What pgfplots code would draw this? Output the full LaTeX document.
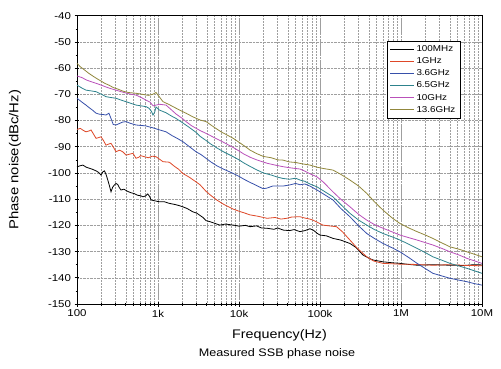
\documentclass[border=0pt]{standalone}
\usepackage{fontspec}
\setmainfont{Liberation Sans}[FakeStretch=1.15]
\usepackage{pgfplots}
\pgfplotsset{compat=1.18}
\definecolor{cA}{RGB}{0,0,0}
\definecolor{cB}{RGB}{222,72,40}
\definecolor{cC}{RGB}{55,80,170}
\definecolor{cD}{RGB}{45,130,140}
\definecolor{cE}{RGB}{185,80,185}
\definecolor{cF}{RGB}{145,135,60}
\begin{document}
\begin{tikzpicture}
\begin{axis}[name=ax, width=405bp, height=288.3bp, scale only axis,
 xmode=log, xmin=100, xmax=1e7, ymin=-150, ymax=-40,
 xtick={100,1000,10000,100000,1000000,10000000},
 xticklabels={100,1k,10k,100k,1M,10M},
 ytick={-150,-140,...,-40}, minor y tick num=1,
 xmajorgrids, xminorgrids, ymajorgrids,
 grid style={densely dotted, gray!75, line width=0.5bp},
 minor grid style={densely dotted, gray!75, line width=0.5bp},
 tick pos=left, tick align=center, major tick length=5bp, minor tick length=3bp,
 axis line style={line width=0.8bp},
 every tick/.style={black, line width=0.6bp},
 tick label style={font=\fontsize{10}{12}\selectfont},
 /pgf/number format/assume math mode=true,
 xlabel={Frequency(Hz)},
 xlabel style={font=\fontsize{12.5}{14}\selectfont, at={(axis description cs:0.5,-0.11)}, anchor=center},
 ylabel={Phase noise(dBc/Hz)},
 ylabel style={font=\fontsize{13}{15}\selectfont, at={(axis description cs:-0.153,0.5)}, anchor=center},
 clip=false,
 legend cell align=left,
 legend style={at={(0.946,0.912)}, anchor=north east, font=\fontsize{8.6}{9.6}\selectfont,
   draw=black, line width=0.5bp, inner sep=2.5bp, row sep=0.6bp},
 legend image code/.code={\draw[#1, line width=0.9bp] (0bp,0bp) -- (24bp,0bp);},
 every axis plot/.append style={line width=0.8bp},
]
\addplot[cA] coordinates {(100,-97.7)(108,-97.3)(118,-97.0)(130,-97.8)(142,-98.2)(155,-98.6)(172,-99.2)(185,-99.8)(198,-100.8)(208,-99.6)(218,-99.2)(228,-100.5)(240,-102.7)(252,-105.0)(263,-107.2)(275,-105.5)(289,-104.6)(303,-104.0)(318,-104.4)(333,-105.6)(349,-106.5)(380,-106.2)(420,-107.0)(460,-107.5)(510,-107.9)(560,-108.5)(610,-108.7)(650,-109.1)(700,-108.8)(746,-108.0)(790,-109.0)(820,-110.3)(900,-110.6)(1040,-111.0)(1200,-111.0)(1380,-111.6)(1600,-112.0)(1800,-112.4)(2020,-112.9)(2300,-113.6)(2680,-114.8)(3000,-115.3)(3230,-116.0)(3600,-117.0)(3920,-118.2)(4400,-118.6)(5000,-119.2)(5800,-119.9)(6800,-119.5)(8500,-119.9)(10000,-120.3)(12000,-120.0)(13700,-120.5)(16500,-120.2)(19000,-121.0)(22200,-121.1)(27000,-121.5)(30000,-121.0)(35200,-121.8)(42000,-122.0)(48000,-121.6)(56600,-122.4)(65000,-122.0)(75000,-121.3)(82600,-121.8)(92000,-123.0)(100000,-123.7)(120000,-124.0)(146000,-125.0)(180000,-125.6)(234000,-126.9)(280000,-128.5)(339000,-131.3)(400000,-132.5)(450000,-133.2)(600000,-133.9)(800000,-134.3)(973000,-134.5)(1250000,-134.9)(1580000,-135.2)(2500000,-135.0)(4000000,-135.2)(6000000,-135.3)(8000000,-135.0)(10000000,-135.1)};
\addlegendentry{100MHz}
\addplot[cB] coordinates {(100,-83.4)(110,-83.0)(120,-83.8)(129,-84.3)(140,-84.0)(149,-83.6)(160,-85.2)(172,-86.8)(185,-86.5)(198,-86.2)(212,-87.6)(228,-89.4)(245,-89.0)(263,-88.7)(282,-90.2)(303,-91.9)(336,-91.3)(370,-92.0)(403,-93.2)(450,-92.8)(491,-92.5)(535,-94.4)(580,-94.0)(610,-93.4)(680,-93.8)(760,-94.2)(850,-93.6)(945,-93.8)(1050,-94.8)(1153,-95.7)(1380,-95.9)(1600,-97.5)(1800,-98.6)(2020,-100.2)(2400,-101.5)(2946,-103.4)(3300,-104.5)(3917,-107.0)(4500,-108.6)(5300,-110.3)(6500,-112.0)(8500,-113.8)(10000,-114.6)(11500,-115.2)(13700,-116.0)(17000,-116.5)(22200,-117.3)(28000,-117.0)(33000,-117.6)(38900,-117.3)(45000,-116.8)(56600,-116.7)(65000,-117.2)(75000,-117.6)(82000,-118.0)(95000,-119.0)(109000,-119.9)(130000,-120.2)(160000,-120.5)(190000,-122.5)(234000,-125.6)(290000,-128.8)(378000,-132.0)(460000,-133.6)(600000,-134.5)(973000,-134.8)(1500000,-134.9)(2480000,-135.2)(4000000,-135.0)(6500000,-135.3)(10000000,-135.4)};
\addlegendentry{1GHz}
\addplot[cC] coordinates {(100,-71.5)(110,-72.5)(120,-73.4)(129,-74.1)(140,-75.0)(155,-76.0)(172,-77.2)(190,-77.6)(210,-77.7)(228,-77.9)(248,-77.2)(265,-79.5)(280,-81.5)(303,-81.7)(330,-81.2)(365,-80.6)(403,-80.4)(450,-81.0)(535,-81.7)(620,-81.9)(700,-82.0)(774,-82.4)(870,-82.8)(1000,-83.4)(1256,-84.3)(1500,-85.8)(1750,-86.9)(2036,-88.1)(2400,-89.8)(2946,-91.9)(3400,-93.0)(3917,-94.4)(4500,-95.8)(5350,-97.3)(6500,-98.6)(8500,-100.2)(10000,-101.3)(11500,-102.4)(13700,-103.6)(16500,-104.8)(19800,-106.0)(22000,-105.8)(26000,-105.0)(34900,-105.0)(42000,-104.6)(50000,-104.0)(56600,-104.5)(65000,-104.2)(75000,-105.0)(91800,-106.5)(110000,-108.0)(144500,-110.3)(180000,-113.5)(234000,-116.7)(300000,-120.2)(378000,-123.1)(470000,-125.0)(600000,-126.9)(780000,-128.6)(973000,-130.1)(1250000,-132.3)(1580000,-134.5)(2000000,-136.5)(2480000,-138.3)(3200000,-139.3)(4030000,-140.2)(5200000,-140.9)(6530000,-141.5)(8000000,-142.2)(10000000,-142.8)};
\addlegendentry{3.6GHz}
\addplot[cD] coordinates {(100,-66.5)(115,-67.6)(129,-68.4)(150,-68.7)(172,-69.0)(200,-70.0)(228,-70.9)(260,-71.2)(303,-71.5)(350,-72.2)(403,-72.8)(470,-73.5)(535,-74.1)(620,-74.4)(711,-74.7)(774,-75.3)(830,-76.5)(867,-77.9)(910,-76.8)(945,-74.8)(1040,-76.0)(1250,-77.0)(1450,-78.2)(1668,-79.2)(2000,-80.8)(2400,-82.5)(2946,-84.5)(3300,-86.0)(3917,-87.6)(4500,-89.0)(5300,-90.4)(6500,-92.0)(8500,-93.8)(10000,-95.0)(11500,-96.2)(13700,-97.5)(16500,-98.8)(20000,-100.0)(25000,-100.8)(30000,-101.6)(34900,-102.1)(42000,-102.4)(50000,-102.0)(56600,-102.7)(65000,-103.2)(75000,-104.2)(91800,-105.3)(110000,-106.8)(144500,-109.1)(180000,-112.0)(234000,-115.4)(300000,-118.0)(378000,-119.9)(470000,-121.6)(600000,-123.1)(780000,-124.4)(973000,-125.6)(1250000,-127.2)(1580000,-128.8)(2000000,-130.4)(2480000,-132.0)(3200000,-133.3)(4030000,-134.5)(5200000,-135.5)(6530000,-136.4)(8000000,-137.3)(10000000,-138.3)};
\addlegendentry{6.5GHz}
\addplot[cE] coordinates {(100,-63.0)(115,-63.6)(130,-64.5)(150,-65.2)(172,-65.8)(200,-66.5)(228,-67.2)(260,-67.8)(303,-68.4)(350,-69.0)(403,-69.5)(470,-70.0)(535,-70.3)(620,-71.2)(711,-72.2)(800,-73.0)(870,-74.4)(945,-74.1)(1050,-73.8)(1256,-74.1)(1450,-75.8)(1668,-77.5)(2000,-79.2)(2218,-80.4)(2600,-82.0)(3300,-83.8)(3917,-84.9)(4800,-86.3)(6000,-87.8)(8500,-90.3)(10000,-91.6)(11500,-92.8)(13700,-94.0)(16500,-95.0)(22200,-96.3)(28000,-97.0)(34900,-97.6)(42000,-98.0)(50000,-98.3)(56600,-98.5)(65000,-99.3)(75000,-100.3)(91800,-101.5)(110000,-103.5)(144500,-107.2)(180000,-110.0)(234000,-112.9)(300000,-115.8)(378000,-118.0)(470000,-119.7)(600000,-121.1)(780000,-122.5)(973000,-123.7)(1250000,-124.7)(1580000,-125.6)(2000000,-126.6)(2480000,-127.5)(3200000,-128.8)(4030000,-130.1)(5200000,-131.3)(6530000,-132.6)(8000000,-133.5)(10000000,-134.5)};
\addlegendentry{10GHz}
\addplot[cF] coordinates {(100,-58.2)(110,-59.5)(125,-60.8)(140,-62.0)(160,-63.2)(180,-64.2)(200,-65.0)(220,-65.8)(248,-66.5)(280,-67.4)(320,-68.0)(370,-68.8)(430,-69.3)(535,-69.6)(640,-70.0)(760,-70.4)(860,-70.0)(945,-69.3)(1000,-70.3)(1153,-72.8)(1350,-73.8)(1600,-75.0)(1900,-76.2)(2218,-77.2)(2700,-78.6)(3300,-79.8)(3917,-80.4)(4800,-82.3)(6000,-84.3)(7200,-85.6)(8500,-86.8)(10000,-88.3)(11800,-89.8)(13700,-91.3)(16500,-92.6)(20000,-93.7)(25000,-94.2)(30000,-95.0)(34900,-95.1)(42000,-95.8)(50000,-96.0)(60000,-96.5)(75300,-97.0)(91800,-97.8)(110000,-98.3)(144500,-98.9)(180000,-100.5)(234000,-102.7)(300000,-105.0)(378000,-107.8)(470000,-111.0)(600000,-114.2)(780000,-117.2)(973000,-119.3)(1250000,-121.0)(1580000,-122.4)(2000000,-123.7)(2480000,-125.0)(3200000,-126.7)(4030000,-128.2)(5200000,-129.1)(6530000,-130.1)(8000000,-131.0)(10000000,-132.0)};
\addlegendentry{13.6GHz}
\node[font=\fontsize{11}{13}\selectfont, anchor=center] at (axis description cs:0.494,-0.172) {Measured SSB phase noise};
\end{axis}
\pgfresetboundingbox
\path[use as bounding box] ([xshift=-77bp,yshift=-65bp]ax.south west) rectangle ([xshift=19bp,yshift=15.7bp]ax.north east);
\end{tikzpicture}
\end{document}
